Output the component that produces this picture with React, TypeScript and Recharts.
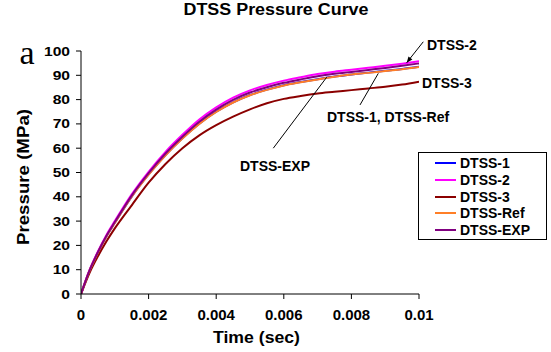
import React from 'react';
import { LineChart, Line, XAxis, YAxis, ReferenceLine, ReferenceDot } from 'recharts';

const times = [0, 0.00025, 0.0005, 0.00075, 0.001, 0.0015, 0.002, 0.0025, 0.003, 0.0035, 0.004, 0.0045, 0.005, 0.0055, 0.006, 0.0065, 0.007, 0.0075, 0.008, 0.0085, 0.009, 0.0095, 0.01];
const dtss1 = [0, 9.5, 17.0, 23.7, 29.3, 40.1, 49.2, 57.2, 64.1, 70.1, 75.0, 78.9, 81.9, 84.1, 85.9, 87.2, 88.4, 89.5, 90.3, 91.1, 91.9, 92.6, 93.5];
const dtss2 = [0, 9.8, 17.5, 24.2, 30, 41, 50.3, 58.5, 65.5, 71.8, 76.8, 80.8, 83.8, 86.0, 87.8, 89.2, 90.5, 91.5, 92.3, 93.1, 93.9, 94.8, 95.8];
const dtss3 = [0, 8.6, 15.5, 21.6, 27, 36.5, 45.8, 53.5, 60, 65.3, 69.5, 73, 76, 78.5, 80.3, 81.5, 82.5, 83.2, 83.9, 84.6, 85.3, 86.2, 87.4];
const dtssRef = [0, 9.5, 17.0, 23.6, 29.2, 40.0, 49.1, 57.1, 64.0, 70.0, 74.9, 78.8, 81.8, 84.0, 85.8, 87.1, 88.3, 89.4, 90.3, 91.0, 91.8, 92.5, 93.4];
const dtssExp = [0, 9.6, 17.2, 23.9, 29.6, 40.5, 49.7, 57.8, 64.7, 70.9, 75.9, 79.9, 82.9, 85.1, 86.9, 88.3, 89.6, 90.6, 91.4, 92.2, 93.0, 93.9, 94.9];

const xTicks = [0, 0.002, 0.004, 0.006, 0.008, 0.01];
const yTicks = [0, 10, 20, 30, 40, 50, 60, 70, 80, 90, 100];

const series = [
  { key: 'DTSS-1', color: '#0000FF', values: dtss1 },
  { key: 'DTSS-2', color: '#FF00FF', values: dtss2 },
  { key: 'DTSS-3', color: '#8B0000', values: dtss3 },
  { key: 'DTSS-Ref', color: '#FF7F27', values: dtssRef },
  { key: 'DTSS-EXP', color: '#800080', values: dtssExp },
];

// annotation texts (data coordinates)
const notes = [
  { text: 'DTSS-2', x: 0.010237, y: 102.5 },
  { text: 'DTSS-3', x: 0.010089, y: 86.7 },
  { text: 'DTSS-1, DTSS-Ref', x: 0.007278, y: 72.8 },
  { text: 'DTSS-EXP', x: 0.004704, y: 52.7 },
];
// pointer lines (data coordinates)
const pointers = [
  { from: { x: 0.010127, y: 103.8 }, to: { x: 0.009636, y: 95.2 }, head: true },
  { from: { x: 0.008254, y: 77.8 }, to: { x: 0.008796, y: 90.8 }, head: false },
  { from: { x: 0.005689, y: 60.0 }, to: { x: 0.007269, y: 89.2 }, head: false },
];

const data = times.map((t, i) => {
  const row: any = { t };
  series.forEach((s) => (row[s.key] = s.values[i]));
  return row;
});

const FONT = '"Liberation Sans", Arial, sans-serif';

const Pointer = (props: any) => {
  const { x1, y1, x2, y2, head } = props;
  if ([x1, y1, x2, y2].some((v) => v === undefined || isNaN(v))) return null;
  const ang = Math.atan2(y2 - y1, x2 - x1);
  const L = 6, W = 2.5;
  const bx = x2 - L * Math.cos(ang), by = y2 - L * Math.sin(ang);
  const px = -Math.sin(ang) * W, py = Math.cos(ang) * W;
  return (
    <g>
      <line x1={x1} y1={y1} x2={x2} y2={y2} stroke="#000" strokeWidth={1} />
      {head && <polygon points={`${x2},${y2} ${bx + px},${by + py} ${bx - px},${by - py}`} fill="#000" />}
    </g>
  );
};

const NoteText = (text: string) => (props: any) => {
  const { cx, cy } = props;
  if (cx === undefined || cy === undefined) return null;
  return (
    <text x={cx} y={cy} dy="0.35em" textAnchor="start" fontFamily={FONT} fontWeight="bold" fontSize={14} fill="#000">
      {text}
    </text>
  );
};

const YTick = (props: any) => {
  const { x, y, payload } = props;
  return (
    <text transform={`translate(${x},${y}) scale(1.25,1)`} textAnchor="end" dy="0.36em" fontFamily={FONT} fontWeight="bold" fontSize={12.5} fill="#000">
      {payload.value}
    </text>
  );
};

const XTick = (props: any) => {
  const { x, y, payload } = props;
  return (
    <text x={x} y={y} textAnchor="middle" dy="0.71em" fontFamily={FONT} fontWeight="bold" fontSize={15} fill="#000">
      {String(payload.value)}
    </text>
  );
};

const LegendBox = () => (
  <div style={{ position: 'absolute', left: 418, top: 152, border: '1px solid #000', background: '#fff', width: 129, height: 88, boxSizing: 'border-box', paddingTop: 2 }}>
    {series.map((s) => (
      <div key={s.key} style={{ display: 'flex', alignItems: 'center', height: 16.7 }}>
        <div style={{ marginLeft: 16, width: 21, height: 2, background: s.color }} />
        <span style={{ marginLeft: 4, fontFamily: FONT, fontWeight: 'bold', fontSize: 14, color: '#000' }}>{s.key}</span>
      </div>
    ))}
  </div>
);

export default function App() {
  return (
    <div style={{ position: 'absolute', left: 0, top: 0, width: 551, height: 352, background: '#fff' }}>
      <LineChart width={551} height={352} data={data} margin={{ top: 51, right: 132, bottom: 18, left: 41 }}>
        <XAxis
          dataKey="t"
          type="number"
          domain={[0, 0.01]}
          ticks={xTicks}
          stroke="#000"
          tickSize={5}
          tickMargin={10}
          height={40}
          tick={<XTick />}
          interval={0}
          allowDataOverflow
        />
        <YAxis
          type="number"
          domain={[0, 100]}
          ticks={yTicks}
          stroke="#000"
          tickSize={5}
          tickMargin={6}
          width={40}
          interval={0}
          tick={<YTick />}
          allowDataOverflow
        />
        {series.map((s) => (
          <Line
            key={s.key}
            dataKey={s.key}
            type="monotone"
            stroke={s.color}
            strokeWidth={2}
            dot={false}
            isAnimationActive={false}
          />
        ))}
        {pointers.map((p, i) => (
          <ReferenceLine
            key={'p' + i}
            segment={[p.from, p.to]}
            ifOverflow="visible"
            shape={(props: any) => <Pointer {...props} head={p.head} />}
          />
        ))}
        {notes.map((n, i) => (
          <ReferenceDot key={'n' + i} x={n.x} y={n.y} r={0} ifOverflow="visible" shape={NoteText(n.text)} />
        ))}
      </LineChart>
      <LegendBox />
      <svg width={551} height={352} style={{ position: 'absolute', left: 0, top: 0, pointerEvents: 'none' }}>
        <text x={276} y={15} textAnchor="middle" fontFamily={FONT} fontWeight="bold" fontSize={16} textLength={185} lengthAdjust="spacingAndGlyphs">
          DTSS Pressure Curve
        </text>
        <text x={19.5} y={64.3} fontFamily='"Liberation Serif", "Times New Roman", serif' fontSize={34}>
          a
        </text>
        <text transform="translate(23,177) rotate(-90)" textAnchor="middle" dy="0.35em" fontFamily={FONT} fontWeight="bold" fontSize={17} textLength={136} lengthAdjust="spacingAndGlyphs">
          Pressure (MPa)
        </text>
        <text x={256.5} y={337.5} textAnchor="middle" dy="0.35em" fontFamily={FONT} fontWeight="bold" fontSize={17} textLength={87} lengthAdjust="spacingAndGlyphs">
          Time (sec)
        </text>
      </svg>
    </div>
  );
}
